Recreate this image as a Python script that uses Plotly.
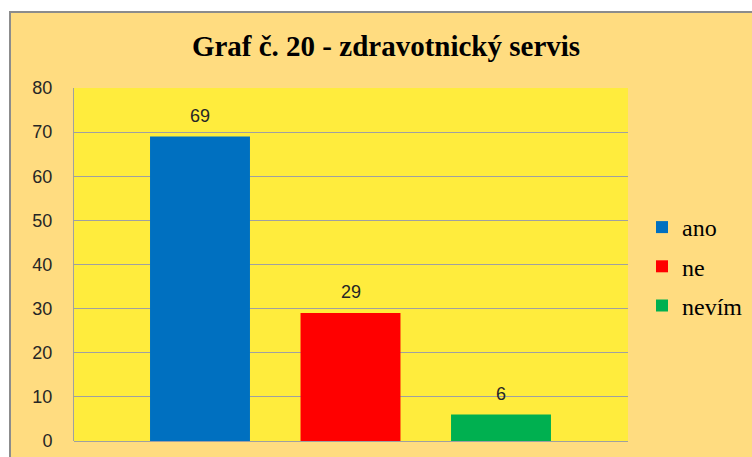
import plotly.graph_objects as go

categories = ["ano", "ne", "nevím"]
values = [69, 29, 6]
colors = ["#0070C0", "#FF0000", "#00B050"]
y_ticks = [0, 10, 20, 30, 40, 50, 60, 70, 80]
title_text = "Graf č. 20 - zdravotnický servis"

W, H = 752, 457
L, R, T, B = 74, 628, 88, 441


def px(x):
    return (x - L) / (R - L)


def py(y):
    return (B - y) / (B - T)


fig = go.Figure()
for i, (c, v, col) in enumerate(zip(categories, values, colors)):
    fig.add_trace(go.Bar(
        x=[i], y=[v], name=c, marker=dict(color=col, line=dict(width=0)),
        width=0.664, legendgroup=c, hoverinfo="skip",
    ))
    fig.add_annotation(
        x=i, y=v, text=str(v), showarrow=False, yanchor="middle", yshift=21,
        font=dict(family="Liberation Sans", size=18, color="#262626"),
    )

slot = 150.5
fig.update_xaxes(
    range=[0 - (200 - L) / slot, 2 + (R - 501) / slot], automargin=False,
    showticklabels=False, showgrid=False, zeroline=False, showline=False,
)
fig.update_yaxes(
    range=[0, 80], tickvals=y_ticks, showgrid=True, gridcolor="#A0A0A0", gridwidth=1,
    zeroline=True, zerolinecolor="#A0A0A0", zerolinewidth=1, automargin=False,
    showline=True, linecolor="#A0A0A0", linewidth=1,
    ticks="", ticklabelstandoff=17,
    tickfont=dict(family="Liberation Sans", size=18, color="#262626"),
)

shapes = [
    dict(type="rect", xref="paper", yref="paper", x0=px(-5), x1=px(W + 5), y0=py(11), y1=py(-5),
         fillcolor="white", line=dict(width=0), layer="above"),
    dict(type="rect", xref="paper", yref="paper", x0=px(-5), x1=px(9), y0=py(H + 5), y1=py(-5),
         fillcolor="white", line=dict(width=0), layer="above"),
    dict(type="line", xref="paper", yref="paper", x0=px(10), x1=px(W + 5), y0=py(12), y1=py(12),
         line=dict(color="#8C8C8C", width=2), layer="above"),
    dict(type="line", xref="paper", yref="paper", x0=px(10), x1=px(10), y0=py(11), y1=py(H + 5),
         line=dict(color="#8C8C8C", width=2), layer="above"),
]

fig.update_layout(
    width=W, height=H, autosize=False,
    margin=dict(l=L, r=W - R, t=T, b=H - B, pad=0, autoexpand=False),
    paper_bgcolor="#FFDC80", plot_bgcolor="#FFEC3D",
    barmode="overlay",
    title=dict(text=title_text, x=386 / W, xanchor="center", xref="container",
               y=1 - 46 / H, yanchor="middle", yref="container",
               font=dict(family="Liberation Serif", size=29, color="black", weight="bold")),
    showlegend=True,
    legend=dict(x=642 / W, y=1 - 205 / H, xref="container", yref="container",
                xanchor="left", yanchor="top",
                traceorder="grouped", tracegroupgap=5, bgcolor="rgba(0,0,0,0)",
                font=dict(family="Liberation Serif", size=24, color="black")),
    shapes=shapes,
)

fig.write_html(
    "out.html",
    config={"displayModeBar": False},
    post_script="document.body.style.margin='0';document.body.style.padding='0';",
)
